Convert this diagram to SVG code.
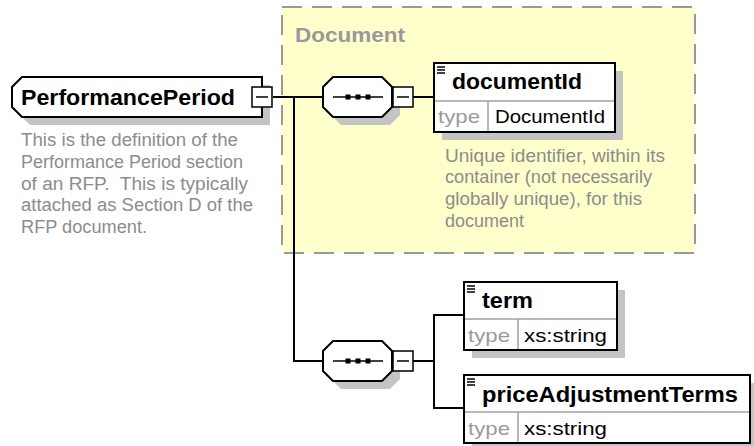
<svg xmlns="http://www.w3.org/2000/svg" width="754" height="446" viewBox="0 0 754 446">
<defs>
<style>
.bg{fill:#ffffff}
.grp{fill:#ffffcc;stroke:#999999;stroke-width:2;stroke-dasharray:20 10}
.shadow{fill:#c4c4c4;stroke:none}
.box{fill:#ffffff;stroke:#000000;stroke-width:2}
.div{stroke:#a0a0a0;stroke-width:1.5;fill:none}
.con{fill:none;stroke:#000000;stroke-width:2}
.mbox{fill:#ffffff;stroke:#000000;stroke-width:1.5}
.mline{stroke:#000000;stroke-width:1.5}
.name{font-family:"Liberation Sans",Arial,sans-serif;font-weight:bold;font-size:22px;fill:#000000}
.glabel{font-family:"Liberation Sans",Arial,sans-serif;font-weight:bold;font-size:21px;fill:#999999}
.tlabel{font-family:"Liberation Sans",Arial,sans-serif;font-size:19px;fill:#9a9a9a}
.tval{font-family:"Liberation Sans",Arial,sans-serif;font-size:19px;fill:#000000}
.desc{font-family:"Liberation Sans",Arial,sans-serif;font-size:17.5px;fill:#8c8c8c}
.icon{stroke:#000000;stroke-width:1.5}
</style>
</defs>
<rect class="bg" x="0" y="0" width="754" height="446"/>

<g id="group-Document">
<rect class="grp" x="282" y="7" width="413" height="246"/>
<text class="glabel" x="295" y="42" textLength="110" lengthAdjust="spacingAndGlyphs">Document</text>
</g>

<g id="connectors">
<polyline class="con" points="273,97 323,97"/>
<polyline class="con" points="294,97 294,361 323,361"/>
<polyline class="con" points="413,97 434,97"/>
<polyline class="con" points="413,361 434,361"/>
<polyline class="con" points="464,315 434,315 434,408 464,408"/>
</g>

<g id="node-PerformancePeriod">
<polygon class="shadow" points="30,85 270,85 270,125 30,125 20,115 20,95"/>
<polygon class="box" points="22,77 262,77 262,117 22,117 12,107 12,87"/>
<rect class="mbox" x="252" y="87" width="20" height="20"/>
<line class="mline" x1="256" y1="97" x2="268" y2="97"/>
<text class="name" x="21" y="105" textLength="214" lengthAdjust="spacingAndGlyphs">PerformancePeriod</text>
<text class="desc" x="21" y="146" textLength="217" lengthAdjust="spacingAndGlyphs">This is the definition of the</text>
<text class="desc" x="21" y="168" textLength="222" lengthAdjust="spacingAndGlyphs">Performance Period section</text>
<text class="desc" x="21" y="190" textLength="227" lengthAdjust="spacingAndGlyphs" xml:space="preserve">of an RFP.  This is typically</text>
<text class="desc" x="21" y="211" textLength="232" lengthAdjust="spacingAndGlyphs">attached as Section D of the</text>
<text class="desc" x="21" y="233" textLength="126" lengthAdjust="spacingAndGlyphs">RFP document.</text>
</g>

<g id="node-sequence1">
<polygon class="shadow" points="341,85 390,85 400,95 400,115 390,125 341,125 331,115 331,95"/>
<polygon class="box" points="333,77 382,77 392,87 392,107 382,117 333,117 323,107 323,87"/>
<line class="mline" x1="333" y1="97" x2="383" y2="97"/>
<rect x="345.5" y="94.5" width="5" height="5" fill="#000"/>
<rect x="355.5" y="94.5" width="5" height="5" fill="#000"/>
<rect x="365.5" y="94.5" width="5" height="5" fill="#000"/>
<rect class="mbox" x="393" y="87" width="20" height="20"/>
<line class="mline" x1="397" y1="97" x2="409" y2="97"/>
</g>

<g id="node-documentId">
<rect class="shadow" x="442" y="71" width="181" height="69"/>
<rect class="box" x="434" y="63" width="181" height="69"/>
<line class="div" x1="435" y1="101" x2="614" y2="101"/>
<line class="div" x1="488" y1="101" x2="488" y2="131"/>
<line class="icon" x1="437" y1="67" x2="445" y2="67"/>
<line class="icon" x1="437" y1="70" x2="445" y2="70"/>
<line class="icon" x1="437" y1="73" x2="445" y2="73"/>
<text class="name" x="452" y="89" textLength="130" lengthAdjust="spacingAndGlyphs">documentId</text>
<text class="tlabel" x="438" y="123" textLength="42" lengthAdjust="spacingAndGlyphs">type</text>
<text class="tval" x="495" y="123" textLength="110" lengthAdjust="spacingAndGlyphs">DocumentId</text>
<text class="desc" x="445" y="162" textLength="220" lengthAdjust="spacingAndGlyphs">Unique identifier, within its</text>
<text class="desc" x="445" y="183" textLength="207" lengthAdjust="spacingAndGlyphs">container (not necessarily</text>
<text class="desc" x="445" y="205" textLength="197" lengthAdjust="spacingAndGlyphs">globally unique), for this</text>
<text class="desc" x="445" y="227" textLength="79" lengthAdjust="spacingAndGlyphs">document</text>
</g>

<g id="node-sequence2">
<polygon class="shadow" points="341,349 390,349 400,359 400,379 390,389 341,389 331,379 331,359"/>
<polygon class="box" points="333,341 382,341 392,351 392,371 382,381 333,381 323,371 323,351"/>
<line class="mline" x1="333" y1="361" x2="383" y2="361"/>
<rect x="345.5" y="358.5" width="5" height="5" fill="#000"/>
<rect x="355.5" y="358.5" width="5" height="5" fill="#000"/>
<rect x="365.5" y="358.5" width="5" height="5" fill="#000"/>
<rect class="mbox" x="393" y="351" width="20" height="20"/>
<line class="mline" x1="397" y1="361" x2="409" y2="361"/>
</g>

<g id="node-term">
<rect class="shadow" x="472" y="290" width="153" height="68"/>
<rect class="box" x="464" y="282" width="153" height="68"/>
<line class="div" x1="465" y1="319" x2="616" y2="319"/>
<line class="div" x1="518" y1="319" x2="518" y2="349"/>
<line class="icon" x1="467" y1="286" x2="475" y2="286"/>
<line class="icon" x1="467" y1="289" x2="475" y2="289"/>
<line class="icon" x1="467" y1="292" x2="475" y2="292"/>
<text class="name" x="482" y="308" textLength="51" lengthAdjust="spacingAndGlyphs">term</text>
<text class="tlabel" x="468" y="342" textLength="42" lengthAdjust="spacingAndGlyphs">type</text>
<text class="tval" x="524" y="342" textLength="83" lengthAdjust="spacingAndGlyphs">xs:string</text>
</g>

<g id="node-priceAdjustmentTerms">
<rect class="shadow" x="472" y="383" width="286" height="68"/>
<rect class="box" x="464" y="375" width="286" height="68"/>
<line class="div" x1="465" y1="412" x2="749" y2="412"/>
<line class="div" x1="518" y1="412" x2="518" y2="442"/>
<line class="icon" x1="467" y1="379" x2="475" y2="379"/>
<line class="icon" x1="467" y1="382" x2="475" y2="382"/>
<line class="icon" x1="467" y1="385" x2="475" y2="385"/>
<text class="name" x="482" y="402" textLength="256" lengthAdjust="spacingAndGlyphs">priceAdjustmentTerms</text>
<text class="tlabel" x="468" y="435" textLength="42" lengthAdjust="spacingAndGlyphs">type</text>
<text class="tval" x="524" y="435" textLength="83" lengthAdjust="spacingAndGlyphs">xs:string</text>
</g>
</svg>
